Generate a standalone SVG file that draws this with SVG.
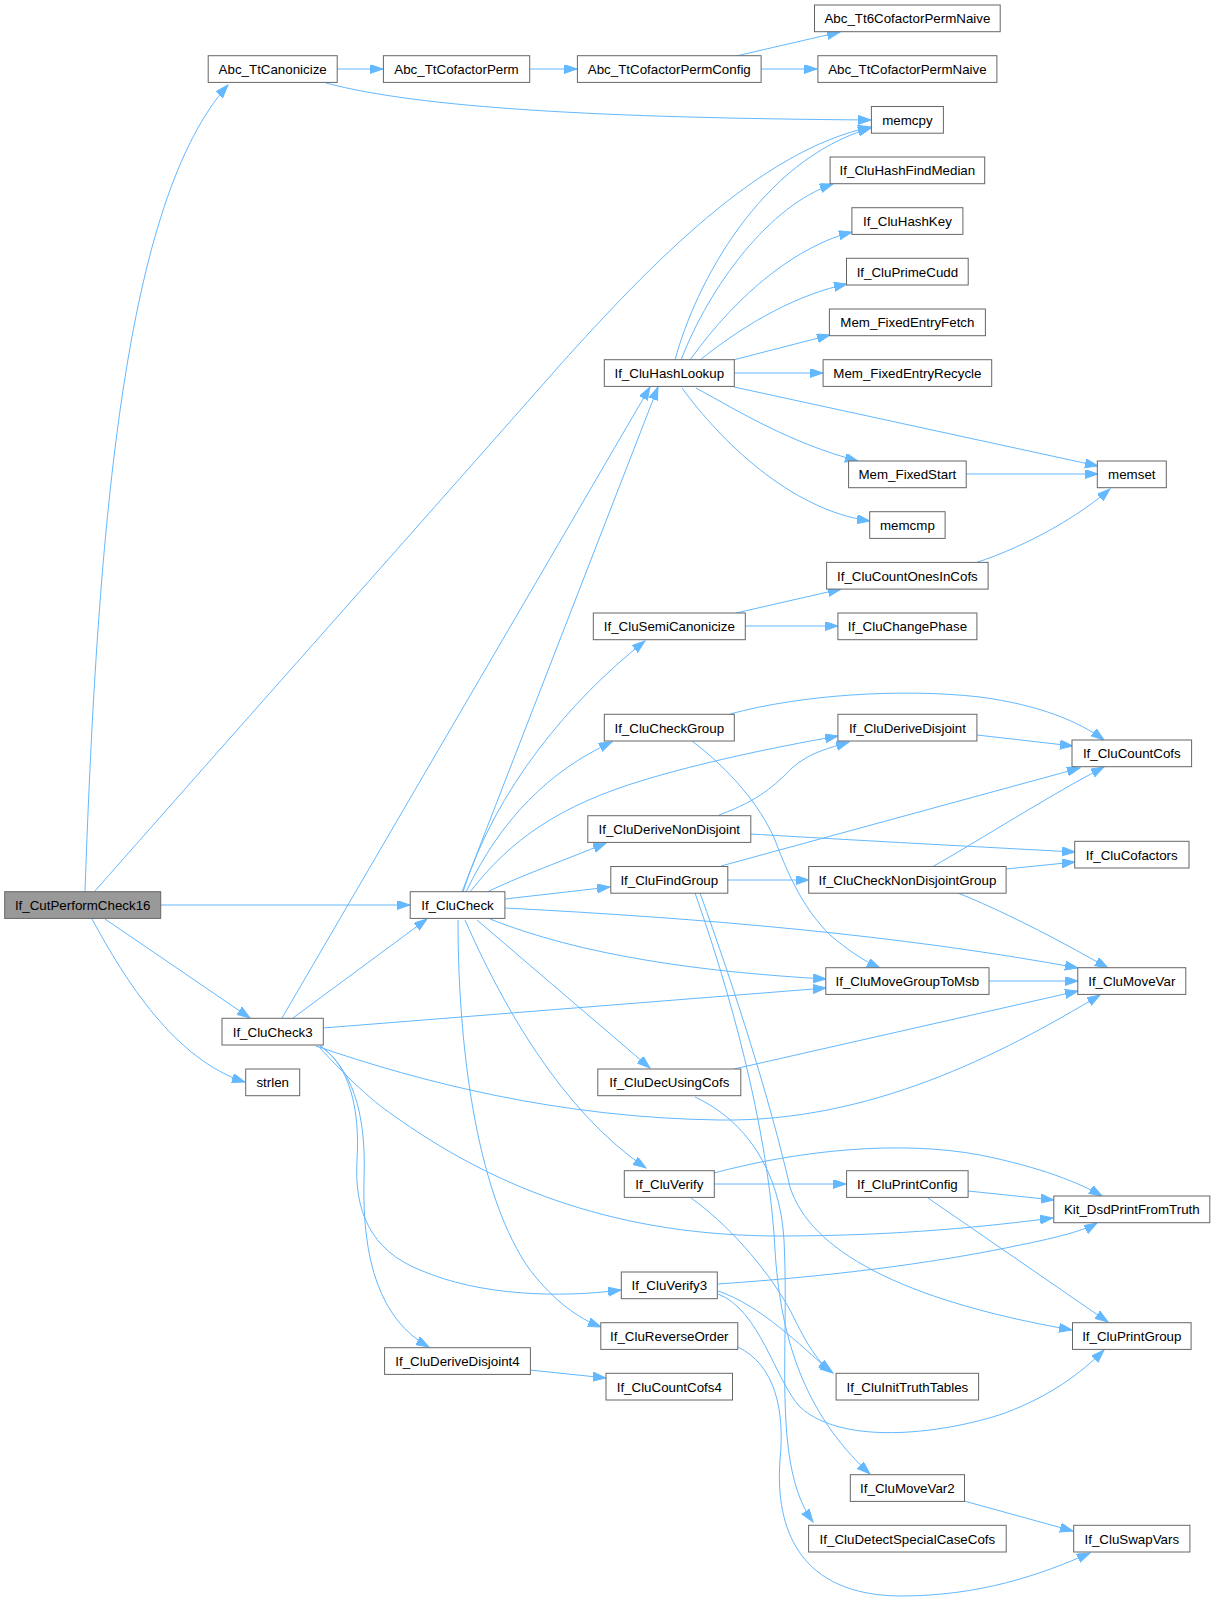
<svg xmlns="http://www.w3.org/2000/svg" width="1215" height="1603" viewBox="0 0 1215 1603">
<style>
.node rect{fill:#ffffff;stroke:#666666;stroke-width:1}
.node.root rect{fill:#999999}
.node text{font-family:"Liberation Sans",Arial,Helvetica,sans-serif;font-size:13.33px;text-anchor:middle;fill:#000000}
.edges path{fill:none;stroke:#63b8ff;stroke-width:1;marker-end:url(#arr)}
</style>
<defs>
<marker id="arr" markerUnits="userSpaceOnUse" markerWidth="14" markerHeight="10" refX="13" refY="4.5" orient="auto">
<path d="M0,0 L13,4.5 L0,9 z" fill="#63b8ff" stroke="#63b8ff" stroke-width="1"/>
</marker>
</defs>
<rect x="0" y="0" width="1215" height="1603" fill="#ffffff"/>
<g id="edges" class="edges">
<path d="M85,891 C98,520 125,200 228,85"/>
<path d="M95,891 C250,715 450,490 560,365 C650,265 760,150 871,127"/>
<path d="M161,905 L410,905"/>
<path d="M105,919 L250,1018"/>
<path d="M92,919 C125,980 175,1060 245,1082"/>
<path d="M337,69 L383,69"/>
<path d="M326,83 C420,108 600,118 871,120"/>
<path d="M530,69 L577,69"/>
<path d="M736,56 L840,32"/>
<path d="M761,69 L817,69"/>
<path d="M675,360 C695,285 760,160 871,128"/>
<path d="M681,360 C710,285 770,205 833,184"/>
<path d="M690,360 C740,290 800,245 852,232"/>
<path d="M700,360 C750,320 800,294 847,284"/>
<path d="M733,360 L830,335"/>
<path d="M734,373 L823,373"/>
<path d="M734,387 L1098,466"/>
<path d="M696,388 C740,412 790,443 858,461"/>
<path d="M682,388 C720,440 790,510 870,521"/>
<path d="M966,474 L1098,474"/>
<path d="M975,563 C1030,545 1080,515 1110,489"/>
<path d="M736,613 L841,589"/>
<path d="M745,626 L838,626"/>
<path d="M462,892 L658,387"/>
<path d="M463,892 C495,790 570,700 645,641"/>
<path d="M466,892 C500,820 550,770 612,742"/>
<path d="M470,892 C510,840 560,805 644,780 C700,763 770,748 838,736"/>
<path d="M487,892 C520,876 565,860 606,843"/>
<path d="M505,899 L610,887"/>
<path d="M505,908 C700,918 900,935 1078,968"/>
<path d="M490,919 C580,955 700,972 826,979"/>
<path d="M477,920 L650,1068"/>
<path d="M465,920 C500,1000 560,1110 646,1168"/>
<path d="M458,920 C458,1060 480,1200 530,1270 C555,1302 578,1318 601,1327"/>
<path d="M293,1018 L427,919"/>
<path d="M282,1018 L650,387"/>
<path d="M323,1028 L826,988"/>
<path d="M316,1046 C420,1082 560,1118 720,1120 C870,1122 1000,1055 1100,995"/>
<path d="M318,1046 C350,1080 370,1100 400,1120 C500,1190 620,1236 780,1236 C900,1236 990,1226 1053,1218"/>
<path d="M320,1046 C350,1065 360,1110 357,1160 C354,1210 370,1250 420,1270 C480,1296 560,1298 621,1290"/>
<path d="M321,1046 C358,1075 366,1125 364,1180 C362,1260 380,1320 429,1347"/>
<path d="M530,1370 L606,1378"/>
<path d="M734,1069 L1078,991"/>
<path d="M695,1097 C745,1120 780,1170 784,1240 C788,1320 780,1400 790,1460 C795,1490 803,1508 813,1522"/>
<path d="M728,880 L809,880"/>
<path d="M721,866 L1080,768"/>
<path d="M700,893 C735,990 770,1100 790,1187 C810,1250 900,1300 1072,1330"/>
<path d="M695,893 C740,1020 770,1150 775,1250 C780,1330 800,1410 870,1474"/>
<path d="M730,714 C800,695 900,688 980,697 C1040,705 1080,722 1104,740"/>
<path d="M692,741 C730,770 760,805 775,840 C790,880 805,910 830,935 C848,950 862,960 880,968"/>
<path d="M977,735 L1073,746"/>
<path d="M719,815 C760,800 775,785 792,768 C810,752 830,748 849,742"/>
<path d="M751,834 C850,840 1000,848 1075,852"/>
<path d="M932,867 C980,840 1050,795 1104,767"/>
<path d="M1006,869 L1075,862"/>
<path d="M958,893 C1000,910 1050,935 1108,968"/>
<path d="M989,981 L1078,981"/>
<path d="M714,1184 L846,1184"/>
<path d="M714,1173 C800,1150 900,1140 980,1155 C1040,1167 1080,1183 1102,1196"/>
<path d="M691,1198 C725,1222 765,1265 790,1310 C805,1340 815,1360 833,1373"/>
<path d="M968,1191 L1054,1200"/>
<path d="M928,1198 L1108,1322"/>
<path d="M718,1284 C850,1275 950,1260 1020,1245 C1060,1237 1085,1230 1097,1223"/>
<path d="M718,1291 C760,1305 800,1345 831,1372"/>
<path d="M718,1294 C760,1310 775,1380 800,1407 C845,1448 950,1432 1005,1413 C1050,1396 1080,1374 1104,1350"/>
<path d="M738,1347 C775,1365 785,1410 780,1460 C775,1530 800,1595 900,1596 C980,1596 1040,1575 1090,1553"/>
<path d="M964,1501 L1073,1531"/>
</g>
<g id="n_If_CutPerformCheck16" class="node root"><rect x="4.7" y="891.7" width="156" height="26.7"/><text x="82.7" y="910">If_CutPerformCheck16</text></g>
<g id="n_Abc_TtCanonicize" class="node"><rect x="208.2" y="55.7" width="129" height="26.7"/><text x="272.7" y="74">Abc_TtCanonicize</text></g>
<g id="n_If_CluCheck3" class="node"><rect x="222" y="1018.3" width="101.3" height="26.7"/><text x="272.7" y="1036.6">If_CluCheck3</text></g>
<g id="n_strlen" class="node"><rect x="245.7" y="1069" width="54" height="26.7"/><text x="272.7" y="1087.3">strlen</text></g>
<g id="n_Abc_TtCofactorPerm" class="node"><rect x="383.4" y="55.7" width="146.3" height="26.7"/><text x="456.5" y="74">Abc_TtCofactorPerm</text></g>
<g id="n_If_CluCheck" class="node"><rect x="410.2" y="891.7" width="94.7" height="26.7"/><text x="457.5" y="910">If_CluCheck</text></g>
<g id="n_If_CluDeriveDisjoint4" class="node"><rect x="384.6" y="1347.7" width="145.8" height="26.7"/><text x="457.5" y="1366">If_CluDeriveDisjoint4</text></g>
<g id="n_Abc_TtCofactorPermConfig" class="node"><rect x="577.4" y="55.7" width="183.7" height="26.7"/><text x="669.3" y="74">Abc_TtCofactorPermConfig</text></g>
<g id="n_If_CluHashLookup" class="node"><rect x="604.3" y="359.7" width="130" height="26.7"/><text x="669.3" y="378">If_CluHashLookup</text></g>
<g id="n_If_CluSemiCanonicize" class="node"><rect x="593.3" y="613" width="152" height="26.7"/><text x="669.3" y="631.3">If_CluSemiCanonicize</text></g>
<g id="n_If_CluCheckGroup" class="node"><rect x="604.3" y="714.3" width="130" height="26.7"/><text x="669.3" y="732.6">If_CluCheckGroup</text></g>
<g id="n_If_CluDeriveNonDisjoint" class="node"><rect x="587.8" y="815.7" width="163" height="26.7"/><text x="669.3" y="834">If_CluDeriveNonDisjoint</text></g>
<g id="n_If_CluFindGroup" class="node"><rect x="610.8" y="866.5" width="117" height="26.7"/><text x="669.3" y="884.8">If_CluFindGroup</text></g>
<g id="n_If_CluDecUsingCofs" class="node"><rect x="597.8" y="1069" width="143" height="26.7"/><text x="669.3" y="1087.3">If_CluDecUsingCofs</text></g>
<g id="n_If_CluVerify" class="node"><rect x="624.3" y="1170.7" width="90" height="26.7"/><text x="669.3" y="1189">If_CluVerify</text></g>
<g id="n_If_CluVerify3" class="node"><rect x="621.3" y="1272" width="96" height="26.7"/><text x="669.3" y="1290.3">If_CluVerify3</text></g>
<g id="n_If_CluReverseOrder" class="node"><rect x="600.8" y="1322.7" width="137" height="26.7"/><text x="669.3" y="1341">If_CluReverseOrder</text></g>
<g id="n_If_CluCountCofs4" class="node"><rect x="606" y="1373.3" width="126.5" height="26.7"/><text x="669.3" y="1391.6">If_CluCountCofs4</text></g>
<g id="n_Abc_Tt6CofactorPermNaive" class="node"><rect x="814.5" y="5" width="185.7" height="26.7"/><text x="907.4" y="23.3">Abc_Tt6CofactorPermNaive</text></g>
<g id="n_Abc_TtCofactorPermNaive" class="node"><rect x="817.9" y="55.7" width="179" height="26.7"/><text x="907.4" y="74">Abc_TtCofactorPermNaive</text></g>
<g id="n_memcpy" class="node"><rect x="871.4" y="106.5" width="72" height="26.7"/><text x="907.4" y="124.8">memcpy</text></g>
<g id="n_If_CluHashFindMedian" class="node"><rect x="830.1" y="157" width="154.6" height="26.7"/><text x="907.4" y="175.3">If_CluHashFindMedian</text></g>
<g id="n_If_CluHashKey" class="node"><rect x="851.9" y="207.7" width="111" height="26.7"/><text x="907.4" y="226">If_CluHashKey</text></g>
<g id="n_If_CluPrimeCudd" class="node"><rect x="846.5" y="258.3" width="121.7" height="26.7"/><text x="907.4" y="276.6">If_CluPrimeCudd</text></g>
<g id="n_Mem_FixedEntryFetch" class="node"><rect x="829.4" y="309" width="156" height="26.7"/><text x="907.4" y="327.3">Mem_FixedEntryFetch</text></g>
<g id="n_Mem_FixedEntryRecycle" class="node"><rect x="823.1" y="359.7" width="168.6" height="26.7"/><text x="907.4" y="378">Mem_FixedEntryRecycle</text></g>
<g id="n_Mem_FixedStart" class="node"><rect x="848.6" y="461" width="117.6" height="26.7"/><text x="907.4" y="479.3">Mem_FixedStart</text></g>
<g id="n_memcmp" class="node"><rect x="869.7" y="511.7" width="75.4" height="26.7"/><text x="907.4" y="530">memcmp</text></g>
<g id="n_If_CluCountOnesInCofs" class="node"><rect x="826.6" y="562.4" width="161.5" height="26.7"/><text x="907.4" y="580.7">If_CluCountOnesInCofs</text></g>
<g id="n_If_CluChangePhase" class="node"><rect x="837.9" y="613" width="139" height="26.7"/><text x="907.4" y="631.3">If_CluChangePhase</text></g>
<g id="n_If_CluDeriveDisjoint" class="node"><rect x="837.9" y="714.3" width="139" height="26.7"/><text x="907.4" y="732.6">If_CluDeriveDisjoint</text></g>
<g id="n_If_CluCheckNonDisjointGroup" class="node"><rect x="808.7" y="866.5" width="197.4" height="26.7"/><text x="907.4" y="884.8">If_CluCheckNonDisjointGroup</text></g>
<g id="n_If_CluMoveGroupToMsb" class="node"><rect x="825.8" y="967.7" width="163.2" height="26.7"/><text x="907.4" y="986">If_CluMoveGroupToMsb</text></g>
<g id="n_If_CluPrintConfig" class="node"><rect x="846.6" y="1170.7" width="121.5" height="26.7"/><text x="907.4" y="1189">If_CluPrintConfig</text></g>
<g id="n_If_CluInitTruthTables" class="node"><rect x="836.1" y="1373.3" width="142.5" height="26.7"/><text x="907.4" y="1391.6">If_CluInitTruthTables</text></g>
<g id="n_If_CluMoveVar2" class="node"><rect x="850.3" y="1474.7" width="114.2" height="26.7"/><text x="907.4" y="1493">If_CluMoveVar2</text></g>
<g id="n_If_CluDetectSpecialCaseCofs" class="node"><rect x="808.6" y="1525.3" width="197.6" height="26.7"/><text x="907.4" y="1543.6">If_CluDetectSpecialCaseCofs</text></g>
<g id="n_memset" class="node"><rect x="1097.3" y="461" width="69" height="26.7"/><text x="1131.8" y="479.3">memset</text></g>
<g id="n_If_CluCountCofs" class="node"><rect x="1072" y="740" width="119.6" height="26.7"/><text x="1131.8" y="758.3">If_CluCountCofs</text></g>
<g id="n_If_CluCofactors" class="node"><rect x="1074.7" y="841.3" width="114.3" height="26.7"/><text x="1131.8" y="859.6">If_CluCofactors</text></g>
<g id="n_If_CluMoveVar" class="node"><rect x="1077.8" y="967.7" width="108" height="26.7"/><text x="1131.8" y="986">If_CluMoveVar</text></g>
<g id="n_Kit_DsdPrintFromTruth" class="node"><rect x="1053.8" y="1196" width="156" height="26.7"/><text x="1131.8" y="1214.3">Kit_DsdPrintFromTruth</text></g>
<g id="n_If_CluPrintGroup" class="node"><rect x="1072.5" y="1322.7" width="118.6" height="26.7"/><text x="1131.8" y="1341">If_CluPrintGroup</text></g>
<g id="n_If_CluSwapVars" class="node"><rect x="1073.7" y="1525.3" width="116.2" height="26.7"/><text x="1131.8" y="1543.6">If_CluSwapVars</text></g>
</svg>
